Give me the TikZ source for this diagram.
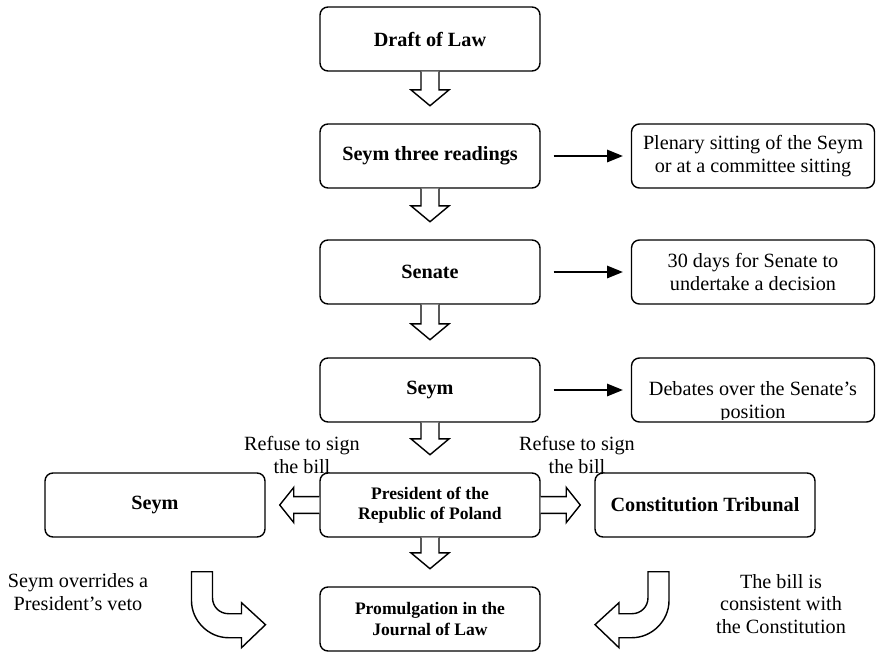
\documentclass[tikz,border=0pt]{standalone}
\usepackage{fontspec}
\setmainfont{Liberation Serif}
\usetikzlibrary{arrows.meta,calc}

% hollow block arrows between boxes
\newcommand{\flowdown}[2]{%
  \draw[hollow] let \p1=(#1), \p2=(#2) in
    (\x1-5.1pt,\y1) -- (\x1-5.1pt,\y2+19pt) -- (\x1-10.8pt,\y2+19pt) -- (\x1,\y2+10pt)
    -- (\x1+10.8pt,\y2+19pt) -- (\x1+5.1pt,\y2+19pt) -- (\x1+5.1pt,\y1);}
\newcommand{\flowside}[2]{%
  \draw[hollow] let \p1=(#1), \p2=(#2), \n1={sign(\x2-\x1)} in
    (\x1,\y1+4.8pt) -- ({\x2-(\n1)*16pt},\y1+4.8pt) -- ({\x2-(\n1)*16pt},\y1+10pt) -- ({\x2-(\n1)*8pt},\y1)
    -- ({\x2-(\n1)*16pt},\y1-10pt) -- ({\x2-(\n1)*16pt},\y1-4.8pt) -- (\x1,\y1-4.8pt);}

\begin{document}
\begin{tikzpicture}[x=0.02cm, y=-0.02cm,
  box/.style={draw, line width=0.8pt, rounded corners=4.5pt, minimum width=4.4cm, minimum height=1.28cm, align=center, font=\fontsize{11.5}{13}\selectfont\bfseries},
  smallbox/.style={box, font=\fontsize{10}{11.5}\selectfont\bfseries},
  note/.style={draw, line width=0.8pt, rounded corners=4.5pt, minimum width=4.86cm, minimum height=1.28cm, align=center, font=\fontsize{11.5}{13}\selectfont},
  remark/.style={align=center, inner sep=0pt, font=\fontsize{11.5}{13}\selectfont},
  hollow/.style={draw, line width=0.8pt, fill=white, line join=miter},
  link/.style={-{Triangle[length=9pt,width=7pt]}, line width=1.1pt, shorten <=7.4pt, shorten >=4.5pt},
  veer/.pic={\draw[hollow] (0,0) -- (0,29) .. controls (0,49) and (17,66) .. (37,66) -- (50,66) -- (50,76)
    -- (74,53) -- (50,31) -- (50,42) -- (37,42) .. controls (28,42) and (21,35) .. (21,26) -- (21,0) -- cycle;}
]
\useasboundingbox (0,0) rectangle (876,653);

% main column
\node[box] (draft) at (430,39) {Draft of Law};
\node[box] (readings) at (430,156) {Seym three readings};
\node[box] (senate) at (430,272) {Senate};
\node[box] (seym) at (430,390) {Seym};
\node[smallbox] (pres) at (430,505) {President of the\\Republic of Poland};
\node[smallbox] (prom) at (430,619) {Promulgation in the\\Journal of Law};
\node[box] (veto) at (155,505) {Seym};
\node[box] (tribunal) at (705,505) {Constitution Tribunal};

% notes on the right
\node[note] (plenary) at (753,156) {Plenary sitting of the Seym\\or at a committee sitting};
\node[note] (days) at (753,272) {30 days for Senate to\\undertake a decision};
\node[note] (debates) at (753,390) {};
\begin{scope}
\clip ($(debates.south west)+(0,-3)$) rectangle (debates.north east);
\node[note, draw=none] (debtext) at ($(debates.center)+(0,12)$) {Debates over the Senate's\\position};
\end{scope}

\flowdown{draft.south}{readings.north}
\flowdown{readings.south}{senate.north}
\flowdown{senate.south}{seym.north}
\flowdown{seym.south}{pres.north}
\flowdown{pres.south}{prom.north}
\flowside{pres.west}{veto.east}
\flowside{pres.east}{tribunal.west}

\draw[link] (readings.east) -- (readings.east -| plenary.west);
\draw[link] (senate.east) -- (senate.east -| days.west);
\draw[link] (seym.east) -- (seym.east -| debates.west);

\pic at ($(veto.south)+(36.5,34)$) {veer};
\pic[xscale=-1] at ($(tribunal.south)+(-36,34)$) {veer};

\node[remark] (refl) at (302,455) {Refuse to sign\\the bill};
\node[remark] (refr) at (577,455) {Refuse to sign\\the bill};
\node[remark] (override) at (78,592) {Seym overrides a\\President's veto};
\node[remark] (consistent) at (781,604) {The bill is\\consistent with\\the Constitution};
\end{tikzpicture}
\end{document}
